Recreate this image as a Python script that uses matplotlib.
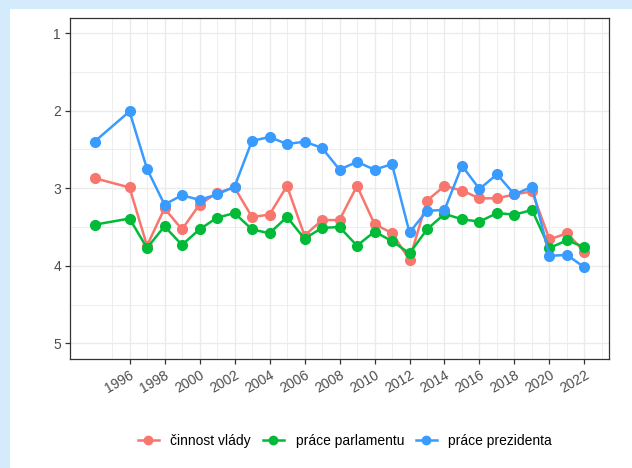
import matplotlib
matplotlib.use("Agg")
import matplotlib.pyplot as plt
from matplotlib.patches import Rectangle
from matplotlib.lines import Line2D

plt.rcParams['font.family'] = ['Liberation Sans', 'DejaVu Sans']

years = [1994, 1996, 1997, 1998, 1999, 2000, 2001, 2002, 2003, 2004, 2005, 2006, 2007, 2008,
         2009, 2010, 2011, 2012, 2013, 2014, 2015, 2016, 2017, 2018, 2019, 2020, 2021, 2022]

vlada = [2.87, 2.99, 3.74, 3.26, 3.53, 3.21, 3.06, 2.99, 3.37, 3.34, 2.97, 3.61, 3.41, 3.41,
         2.97, 3.46, 3.58, 3.92, 3.16, 2.97, 3.03, 3.13, 3.13, 3.08, 3.04, 3.66, 3.58, 3.82]
parlament = [3.47, 3.39, 3.77, 3.49, 3.73, 3.53, 3.38, 3.32, 3.53, 3.58, 3.37, 3.65, 3.51, 3.50,
             3.74, 3.56, 3.68, 3.84, 3.53, 3.33, 3.40, 3.43, 3.32, 3.34, 3.28, 3.77, 3.67, 3.76]
prezident = [2.40, 2.01, 2.75, 3.21, 3.09, 3.15, 3.08, 2.98, 2.39, 2.34, 2.43, 2.40, 2.48, 2.76,
             2.66, 2.76, 2.69, 3.57, 3.29, 3.28, 2.71, 3.01, 2.82, 3.08, 2.98, 3.87, 3.86, 4.02]

labels = ['činnost vlády', 'práce parlamentu', 'práce prezidenta']
colors = ['#F8766D', '#00BA38', '#3A9BFF']
x_ticks = list(range(1996, 2023, 2))
y_ticks = [1, 2, 3, 4, 5]

W, H = 632, 468
fig = plt.figure(figsize=(W / 100, H / 100), dpi=100, facecolor='#D4EBFC')
fig.patches.append(Rectangle((10 / W, 0), 1 - 10 / W, 1 - 9 / H, transform=fig.transFigure,
                             facecolor='white', edgecolor='none', zorder=-10))

ax = fig.add_axes([70 / W, (H - 359) / H, (609 - 70) / W, (359 - 17.5) / H])
ax.set_facecolor('white')

for series, lab, col in zip([vlada, parlament, prezident], labels, colors):
    ax.plot(years, series, color=col, lw=1.8, marker='o', ms=7, label=lab, zorder=3)

ax.set_xlim(1992.6, 2023.4)
ax.set_ylim(5.2, 0.8)
ax.set_xticks(x_ticks)
ax.set_xticks(range(1995, 2024, 2), minor=True)
ax.set_yticks(y_ticks)
ax.set_yticks([1.5, 2.5, 3.5, 4.5], minor=True)
ax.set_xticklabels([str(y) for y in x_ticks], rotation=30, ha='right', va='top',
                   rotation_mode='anchor')
ax.grid(which='major', color='#EBEBEB', lw=1.0, zorder=0)
ax.grid(which='minor', color='#EBEBEB', lw=0.6, zorder=0)
ax.set_axisbelow(True)
ax.tick_params(which='major', length=3.5, width=0.9, color='#333333', labelcolor='#4D4D4D',
               labelsize=10, pad=3)
ax.tick_params(which='minor', length=0)
for s in ax.spines.values():
    s.set_color('#333333')
    s.set_linewidth(0.9)

handles = [Line2D([], [], color=c, lw=1.8, marker='o', ms=6) for c in colors]
fig.legend(handles, labels, loc='center', bbox_to_anchor=(345 / W, (H - 441) / H), ncol=3,
           frameon=False, fontsize=10, handlelength=1.5, columnspacing=0.85, handletextpad=0.85)

fig.savefig('out.png', dpi=100, facecolor=fig.get_facecolor())
